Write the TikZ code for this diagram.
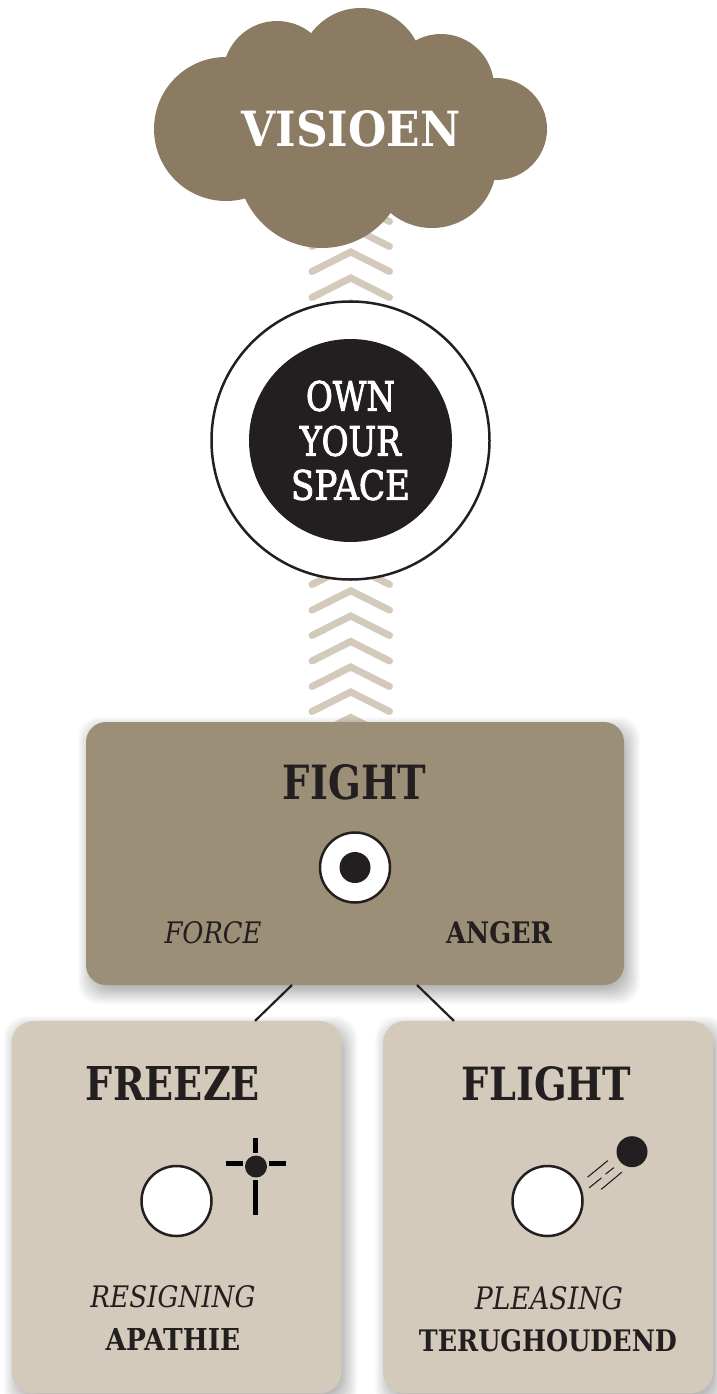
\documentclass[tikz,border=0pt]{standalone}
\usepackage{fontspec}
\usepackage{graphicx}
\setmainfont{DejaVu Serif}
\newfontfamily\midfont[FakeBold=2.5]{DejaVu Serif}
\usetikzlibrary{calc}
\definecolor{cloudc}{HTML}{8A7B62}
\definecolor{fightc}{HTML}{9C8F78}
\definecolor{paleC}{HTML}{D4CABB}
\definecolor{inkc}{HTML}{231F20}
\newcommand{\fitbox}[3]{\resizebox{#1pt}{#2pt}{#3}}
\tikzset{
  lbl/.style={inner sep=0pt,outer sep=0pt,text=inkc},
  wlbl/.style={inner sep=0pt,outer sep=0pt,text=white},
  fightbox/.style={rectangle,rounded corners=20pt,fill=fightc,inner sep=0pt,outer sep=0pt,minimum width=538pt,minimum height=263pt},
  palebox/.style={rectangle,rounded corners=22pt,fill=paleC,inner sep=0pt,outer sep=0pt,minimum width=330pt,minimum height=372.5pt},
  ringc/.style={circle,draw=inkc,line width=2.5pt,fill=white,inner sep=0pt,minimum size=70pt},
  dotc/.style={circle,fill=inkc,inner sep=0pt},
  chev/.style={draw=paleC,line width=7pt,line cap=round},
  conn/.style={draw=inkc,line width=2.2pt},
  cross/.style={draw=black,line width=5pt},
  speed/.style={draw=inkc,line width=1.1pt,line cap=round},
  cloudp/.style={fill=cloudc}
}
\newcommand{\softshadow}[5]{%
  \foreach \k in {-6,...,12}{%
    \fill[black,opacity=0.014,rounded corners=#5pt]
      ({#1+4-\k},{#2+7-\k}) rectangle ({#3+4+\k},{#4+7+\k});
  }%
}
\begin{document}
\begin{tikzpicture}[x=1pt,y=-1pt]
\useasboundingbox (0,0) rectangle (716,1394);
\fill[white] (0,0) rectangle (716,1394);
% chevrons
\foreach \a in {198,223,248,274,299,561,586.7,612,637.5,663,688,713.5}{
  \draw[chev] (312,\a+23.5) -- (350.7,\a+4) -- (389.5,\a+23.5);
}
% cloud
\fill[cloudp] (226,129) circle (72);
\fill[cloudp] (277,75) circle (54);
\fill[cloudp] (361,70) circle (62);
\fill[cloudp] (441,87) circle (53);
\fill[cloudp] (496,129) circle (51);
\fill[cloudp] (322,163.5) circle (84.5);
\fill[cloudp] (432,163.6) circle (64.4);
\fill[cloudp] (350,130) circle (90);
\node[wlbl] (visioen) at (351,128.5) {\fitbox{219}{36}{\bfseries VISIOEN}};
% target
\node[circle,draw=inkc,line width=2.5pt,fill=white,inner sep=0pt,minimum size=278pt] (ring) at (350.5,440.5) {};
\node[dotc,minimum size=203pt] (core) at (350.5,440.5) {};
\node[wlbl] (own) at (350.5,396) {\fitbox{89}{30}{\midfont OWN}};
\node[wlbl] (your) at (350.5,441) {\fitbox{101}{30}{\midfont YOUR}};
\node[wlbl] (space) at (350.5,485) {\fitbox{119}{30}{\midfont SPACE}};
% shadows
\softshadow{86}{722}{624}{985}{20}
\softshadow{11.5}{1021}{341.5}{1393.5}{22}
\softshadow{383}{1021}{713}{1393.5}{22}
% boxes
\node[fightbox] (fight) at (355,853.5) {};
\node[palebox] (freeze) at (176.5,1207.2) {};
\node[palebox] (flight) at (548,1207.2) {};
% connectors
\draw[conn] ($(fight.south)+(-63,0)$) -- ($(freeze.north)+(78.5,0)$);
\draw[conn] ($(fight.south)+(62,0)$) -- ($(flight.north)+(-94,0)$);
% fight content
\node[lbl] (fighttitle) at (354.5,782.5) {\fitbox{143}{35}{\bfseries FIGHT}};
\node[ringc] (fighteye) at (355,867.5) {};
\node[dotc,minimum size=31pt] (fightdot) at (355,867.5) {};
\node[lbl] (force) at (213,933) {\fitbox{97}{22}{\itshape FORCE}};
\node[lbl] (anger) at (499,933) {\fitbox{106}{22}{\bfseries ANGER}};
% freeze content
\node[lbl] (freezetitle) at (173,1083.5) {\fitbox{174}{34}{\bfseries FREEZE}};
\node[ringc] (freezeeye) at (176.5,1201) {};
\draw[cross] (255,1138) -- (255,1153);
\draw[cross] (255,1180) -- (255,1215);
\draw[cross] (226,1163.3) -- (243,1163.3);
\draw[cross] (268.5,1163.3) -- (286,1163.3);
\node[dotc,minimum size=22pt] (freezedot) at (256,1166.5) {};
\node[lbl] (resigning) at (173,1297) {\fitbox{165}{22}{\itshape RESIGNING}};
\node[lbl] (apathie) at (173,1339) {\fitbox{134.5}{22}{\bfseries APATHIE}};
% flight content
\node[lbl] (flighttitle) at (546.7,1083.5) {\fitbox{169.5}{34}{\bfseries FLIGHT}};
\node[ringc] (flighteye) at (547.5,1201) {};
\node[dotc,minimum size=31pt] (flightdot) at (632,1151.7) {};
\draw[speed] (587.7,1177) -- (607.7,1160.7);
\draw[speed] (605.7,1174) -- (613.7,1167.7);
\draw[speed] (589.3,1187.7) -- (601.3,1178);
\draw[speed] (601.3,1189.3) -- (621.7,1172.3);
\node[lbl] (pleasing) at (549,1298.5) {\fitbox{148}{23}{\itshape PLEASING}};
\node[lbl] (terug) at (548,1341) {\fitbox{258}{22}{\bfseries TERUGHOUDEND}};
\end{tikzpicture}
\end{document}
